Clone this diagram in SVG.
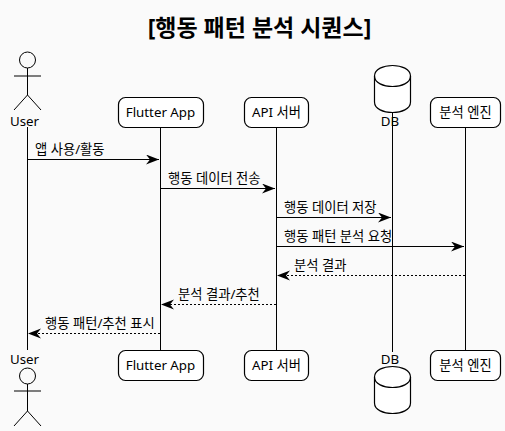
<svg xmlns="http://www.w3.org/2000/svg" width="505" height="431" viewBox="0 0 505 431">
<style>
text{font-family:"Noto Sans","Noto Sans CJK KR",sans-serif;font-size:13.300px;fill:#000}
.t{text-anchor:middle}
.title{font-size:23px;font-weight:700;text-anchor:middle}
.b{fill:#fff;stroke:#000;stroke-width:1.2}
.l{fill:none;stroke:#000;stroke-width:1}
.a{fill:none;stroke:#000;stroke-width:1}
.d{stroke-dasharray:2 2}
.o{fill:none;stroke:#000;stroke-width:1}
</style>
<defs>
<marker id="ah" markerUnits="userSpaceOnUse" markerWidth="14" markerHeight="12" refX="13" refY="5" orient="auto-start-reverse"><path d="M0,0 L13,5 L0,10 L4,5 Z" fill="#000"/></marker>
</defs>
<rect width="505" height="431" fill="#fafafa"/>
<text class="title" x="259.500" y="36">[행동 패턴 분석 시퀀스]</text>
<g id="connectors">
<path class="l" d="M27.500,127V350M160.500,127V350M276.500,127V350M392.500,112V352M465.500,127V350"/>
<line class="a" x1="27.500" y1="159.500" x2="159" y2="159.500" marker-end="url(#ah)"/>
<text x="35" y="154">앱 사용/활동</text>
<line class="a" x1="160.500" y1="188.500" x2="275" y2="188.500" marker-end="url(#ah)"/>
<text x="168" y="183">행동 데이터 전송</text>
<line class="a" x1="276.500" y1="217.500" x2="391" y2="217.500" marker-end="url(#ah)"/>
<text x="284" y="212">행동 데이터 저장</text>
<line class="a" x1="276.500" y1="246.500" x2="464" y2="246.500" marker-end="url(#ah)"/>
<text x="284" y="241">행동 패턴 분석 요청</text>
<line class="a d" x1="465" y1="275.500" x2="277" y2="275.500" marker-end="url(#ah)"/>
<text x="294" y="270">분석 결과</text>
<line class="a d" x1="276" y1="304.500" x2="161" y2="304.500" marker-end="url(#ah)"/>
<text x="178" y="299">분석 결과/추천</text>
<line class="a d" x1="160" y1="333.500" x2="28" y2="333.500" marker-end="url(#ah)"/>
<text x="45" y="328">행동 패턴/추천 표시</text>
</g>
<g id="user-top"><circle class="o" cx="27.500" cy="60" r="8"/><path class="o" d="M27.500,68V95M14,76H41M14,110L27.500,95L41,110"/><text class="t" x="24.500" y="126">User</text></g>
<g id="user-bottom"><text class="t" x="24.500" y="364">User</text><circle class="o" cx="27.500" cy="376" r="8"/><path class="o" d="M27.500,384V411M14,391H41M14,426L27.500,411L41,426"/></g>
<g id="flutter-top"><rect class="b" x="118.500" y="97.500" width="85" height="30" rx="7"/><text class="t" x="160.500" y="117">Flutter App</text></g>
<g id="flutter-bottom"><rect class="b" x="118.500" y="350.500" width="85" height="30" rx="7"/><text class="t" x="160.500" y="370">Flutter App</text></g>
<g id="api-top"><rect class="b" x="244.500" y="97.500" width="64" height="30" rx="7"/><text class="t" x="276.500" y="117">API 서버</text></g>
<g id="api-bottom"><rect class="b" x="244.500" y="350.500" width="64" height="30" rx="7"/><text class="t" x="276.500" y="370">API 서버</text></g>
<g id="db-top"><path class="b" d="M374.500,76C374.500,62 410.500,62 410.500,76V102C410.500,116 374.500,116 374.500,102Z"/><path class="b" style="fill:none" d="M374.500,76C374.500,90 410.500,90 410.500,76"/><text class="t" x="390" y="126">DB</text></g>
<g id="db-bottom"><text class="t" x="390" y="364">DB</text><path class="b" d="M374.500,377C374.500,363 410.500,363 410.500,377V403C410.500,417 374.500,417 374.500,403Z"/><path class="b" style="fill:none" d="M374.500,377C374.500,391 410.500,391 410.500,377"/></g>
<g id="engine-top"><rect class="b" x="430.500" y="97.500" width="70" height="30" rx="7"/><text class="t" x="465.500" y="117">분석 엔진</text></g>
<g id="engine-bottom"><rect class="b" x="430.500" y="350.500" width="70" height="30" rx="7"/><text class="t" x="465.500" y="370">분석 엔진</text></g>
</svg>
